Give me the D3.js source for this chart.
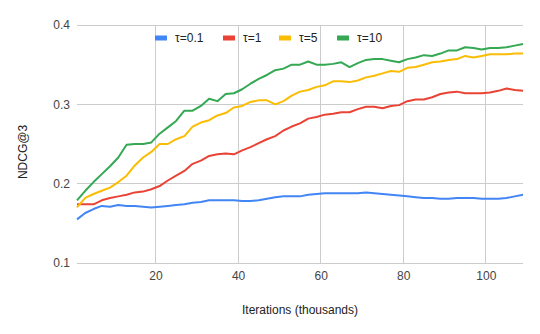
<!DOCTYPE html>
<html>
<head>
<meta charset="utf-8">
<script src="https://cdn.jsdelivr.net/npm/d3@7"></script>
<style>
  body { margin: 0; background: #fff; }
  svg { font-family: "Liberation Sans", Arial, sans-serif; }
</style>
</head>
<body>
<div id="chart"></div>
<script>
// data
const iterations = [1, 3, 5, 7, 9, 11, 13, 15, 17, 19, 21, 23, 25, 27, 29, 31, 33, 35, 37, 39,
  41, 43, 45, 47, 49, 51, 53, 55, 57, 59, 61, 63, 65, 67, 69, 71, 73, 75, 77, 79,
  81, 83, 85, 87, 89, 91, 93, 95, 97, 99, 101, 103, 105, 107, 109]

const tau01 = [0.155, 0.163, 0.168, 0.172, 0.171, 0.173, 0.172, 0.172, 0.171, 0.170,
  0.171, 0.172, 0.173, 0.174, 0.176, 0.177, 0.179, 0.179, 0.179, 0.179,
  0.178, 0.178, 0.179, 0.181, 0.183, 0.184, 0.184, 0.184, 0.186, 0.187,
  0.188, 0.188, 0.188, 0.188, 0.188, 0.189, 0.188, 0.187, 0.186, 0.185,
  0.184, 0.183, 0.182, 0.182, 0.181, 0.181, 0.182, 0.182, 0.182, 0.181,
  0.181, 0.181, 0.182, 0.184, 0.186]

const tau1 = [0.174, 0.174, 0.174, 0.179, 0.182, 0.184, 0.186, 0.189, 0.190, 0.193,
  0.197, 0.204, 0.210, 0.216, 0.225, 0.229, 0.235, 0.237, 0.238, 0.237,
  0.242, 0.246, 0.251, 0.256, 0.260, 0.267, 0.272, 0.276, 0.282, 0.284,
  0.287, 0.288, 0.290, 0.290, 0.294, 0.297, 0.297, 0.295, 0.298, 0.299,
  0.304, 0.306, 0.306, 0.309, 0.313, 0.315, 0.316, 0.314, 0.314, 0.314,
  0.315, 0.317, 0.320, 0.318, 0.317]

const tau5 = [0.170, 0.182, 0.187, 0.191, 0.195, 0.202, 0.210, 0.223, 0.233, 0.240,
  0.250, 0.250, 0.256, 0.260, 0.272, 0.277, 0.280, 0.286, 0.289, 0.296,
  0.298, 0.303, 0.305, 0.305, 0.300, 0.304, 0.311, 0.316, 0.318, 0.322,
  0.324, 0.329, 0.329, 0.328, 0.330, 0.334, 0.336, 0.339, 0.342, 0.341,
  0.346, 0.347, 0.350, 0.353, 0.354, 0.356, 0.357, 0.361, 0.359, 0.361,
  0.363, 0.363, 0.363, 0.364, 0.364]

const tau10 = [0.179, 0.191, 0.202, 0.212, 0.222, 0.233, 0.249, 0.250, 0.250, 0.252,
  0.263, 0.271, 0.279, 0.292, 0.292, 0.298, 0.307, 0.304, 0.313, 0.314,
  0.319, 0.326, 0.332, 0.337, 0.343, 0.345, 0.350, 0.350, 0.354, 0.350,
  0.350, 0.351, 0.353, 0.347, 0.352, 0.356, 0.357, 0.357, 0.355, 0.353,
  0.357, 0.359, 0.362, 0.361, 0.364, 0.368, 0.368, 0.372, 0.371, 0.369,
  0.371, 0.371, 0.372, 0.374, 0.376]

const seriesNames = ["τ=0.1", "τ=1", "τ=5", "τ=10"]
const seriesColors = ["#4285f4", "#ea4335", "#fbbc04", "#34a853"]
const xTicks = [20, 40, 60, 80, 100]
const yTicks = [0.1, 0.2, 0.3, 0.4]

const series = [tau01, tau1, tau5, tau10].map((vals, i) => ({
  name: seriesNames[i],
  color: seriesColors[i],
  values: vals.map((v, j) => ({ x: iterations[j], y: v }))
}))

const width = 540, height = 334
const margin = { left: 77, right: 17, top: 25, bottom: 71 }
const innerW = width - margin.left - margin.right
const innerH = height - margin.top - margin.bottom

const svg = d3.select("#chart").append("svg")
  .attr("width", width)
  .attr("height", height)

const g = svg.append("g")
  .attr("transform", "translate(" + margin.left + "," + margin.top + ")")

const x = d3.scaleLinear()
  .domain(d3.extent(iterations))
  .range([0, innerW])

const y = d3.scaleLinear()
  .domain([0.1, 0.4])
  .range([innerH, 0])

// gridlines
g.append("g")
  .selectAll("line.h")
  .data(yTicks)
  .enter().append("line")
  .attr("x1", 0).attr("x2", innerW)
  .attr("y1", d => y(d)).attr("y2", d => y(d))
  .attr("stroke", "#cccccc")
  .attr("stroke-width", 1)
  .attr("shape-rendering", "crispEdges")

g.append("g")
  .selectAll("line.v")
  .data(xTicks)
  .enter().append("line")
  .attr("x1", d => x(d)).attr("x2", d => x(d))
  .attr("y1", 0).attr("y2", innerH)
  .attr("stroke", "#cccccc")
  .attr("stroke-width", 1)
  .attr("shape-rendering", "crispEdges")

// axes, labels only
const xAxisCall = d3.axisBottom(x).tickValues(xTicks).tickSize(0).tickPadding(8)
g.append("g")
  .attr("transform", "translate(0," + innerH + ")")
  .call(xAxisCall)
  .call(s => s.select(".domain").remove())
  .selectAll("text")
  .attr("font-size", "12px")
  .attr("font-family", "Liberation Sans, Arial, sans-serif")
  .attr("fill", "#444")

const yAxisCall = d3.axisLeft(y).tickValues(yTicks).tickFormat(d3.format(".1f")).tickSize(0).tickPadding(7)
g.append("g")
  .call(yAxisCall)
  .call(s => s.select(".domain").remove())
  .selectAll("text")
  .attr("font-size", "12px")
  .attr("font-family", "Liberation Sans, Arial, sans-serif")
  .attr("fill", "#444")

// lines
const line = d3.line()
  .x(d => x(d.x))
  .y(d => y(d.y))

g.selectAll("path.series")
  .data(series)
  .enter().append("path")
  .attr("class", "series")
  .attr("d", d => line(d.values))
  .attr("fill", "none")
  .attr("stroke", d => d.color)
  .attr("stroke-width", 2)
  .attr("stroke-linejoin", "round")

// legend
const legendX = [155, 223, 279, 337]
const legend = svg.append("g")
  .selectAll("g")
  .data(series)
  .enter().append("g")
  .attr("transform", (d, i) => "translate(" + legendX[i] + ",38)")

legend.append("rect")
  .attr("x", 0).attr("y", -2.5)
  .attr("width", 12).attr("height", 5)
  .attr("fill", d => d.color)

legend.append("text")
  .attr("x", 20)
  .attr("dy", "0.35em")
  .attr("font-size", "12px")
  .attr("fill", "#222")
  .text(d => d.name)

// axis titles
svg.append("text")
  .attr("x", 300)
  .attr("y", 314)
  .attr("text-anchor", "middle")
  .attr("font-size", "12px")
  .attr("fill", "#222")
  .text("Iterations (thousands)")

svg.append("text")
  .attr("transform", "translate(27," + 152 + ") rotate(-90)")
  .attr("text-anchor", "middle")
  .attr("font-size", "12px")
  .attr("fill", "#222")
  .text("NDCG@3")
</script>
</body>
</html>
